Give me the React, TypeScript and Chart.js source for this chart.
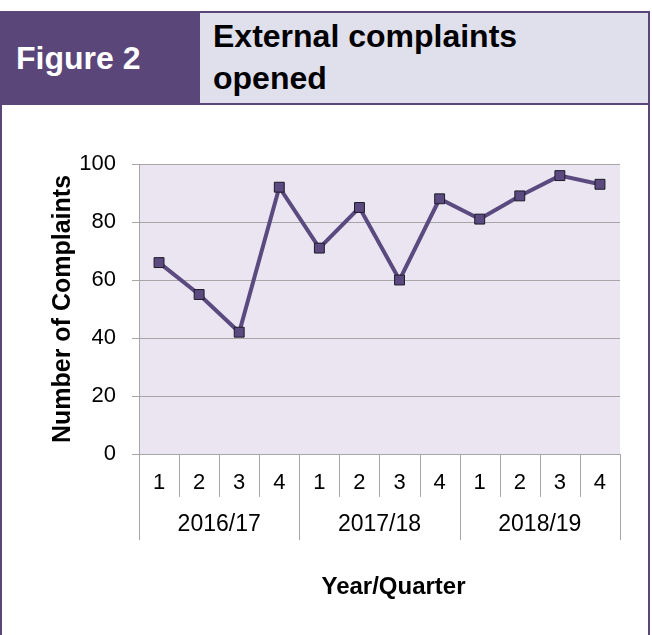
import React, { useEffect, useRef } from "react";
import { Chart, registerables } from "chart.js";

Chart.register(...registerables);

const quarters: string[] = ["1", "2", "3", "4", "1", "2", "3", "4", "1", "2", "3", "4"];
const years: string[] = ["2016/17", "2017/18", "2018/19"];
const complaints: number[] = [66, 55, 42, 92, 71, 85, 60, 88, 81, 89, 96, 93];
const yTicks: number[] = [0, 20, 40, 60, 80, 100];
const xTitle = "Year/Quarter";

const PURPLE = "#5B4679";
const HEADER_BG = "#E0DFEC";
const PLOT_BG = "#EAE5F0";
const GRID = "#A6A6A6";
const FONT = "'Liberation Sans', Arial, sans-serif";

const plotBg = {
  id: "plotBg",
  beforeDraw(chart: any) {
    const { ctx, chartArea } = chart;
    ctx.save();
    ctx.fillStyle = PLOT_BG;
    ctx.fillRect(chartArea.left, chartArea.top, chartArea.right - chartArea.left, chartArea.bottom - chartArea.top);
    ctx.restore();
  },
};

const groupAxis = {
  id: "groupAxis",
  afterDraw(chart: any) {
    const { ctx } = chart;
    const xs = chart.scales.x;
    const top = chart.chartArea.bottom;
    const half = (xs.getPixelForValue(1) - xs.getPixelForValue(0)) / 2;
    ctx.save();
    ctx.strokeStyle = GRID;
    ctx.lineWidth = 1;
    for (let i = 0; i <= quarters.length; i++) {
      const x = i < quarters.length ? xs.getPixelForValue(i) - half : xs.getPixelForValue(quarters.length - 1) + half;
      const len = i % 4 === 0 ? 86 : 43;
      const px = Math.round(x) + 0.5;
      ctx.beginPath();
      ctx.moveTo(px, top);
      ctx.lineTo(px, top + len);
      ctx.stroke();
    }
    ctx.fillStyle = "#000";
    ctx.font = `23px ${FONT}`;
    ctx.textAlign = "center";
    ctx.textBaseline = "middle";
    years.forEach((y, k) => {
      const cx = (xs.getPixelForValue(k * 4) + xs.getPixelForValue(k * 4 + 3)) / 2;
      ctx.fillText(y, cx, top + 71);
    });
    ctx.font = `bold 24px ${FONT}`;
    ctx.fillText(xTitle, (xs.left + xs.right) / 2 + 14, top + 133);
    ctx.restore();
  },
};

export default function App() {
  const ref = useRef<HTMLCanvasElement | null>(null);

  useEffect(() => {
    if (!ref.current) return;
    const chart = new Chart(ref.current, {
      type: "line",
      data: {
        labels: quarters,
        datasets: [
          {
            data: complaints,
            borderColor: "#5A4A7F",
            borderWidth: 4,
            tension: 0,
            pointStyle: "rect",
            pointRadius: 7,
            pointHoverRadius: 7,
            pointBackgroundColor: "#5A4A80",
            pointBorderColor: "#1E1A28",
            pointBorderWidth: 1,
          },
        ],
      },
      options: {
        animation: false,
        responsive: false,
        maintainAspectRatio: false,
        layout: { padding: { top: 164, left: 0, right: 32, bottom: 0 } },
        plugins: { legend: { display: false }, tooltip: { enabled: false } },
        scales: {
          x: {
            type: "category",
            offset: true,
            grid: { display: false, drawTicks: false },
            border: { display: true, color: GRID },
            ticks: { color: "#000", font: { family: FONT, size: 22 }, padding: 16, maxRotation: 0, autoSkip: false },
            title: { display: false },
            afterFit: (s: any) => {
              s.height = 635 - 454;
            },
          },
          y: {
            min: 0,
            max: 100,
            afterBuildTicks: (s: any) => {
              s.ticks = yTicks.map((v) => ({ value: v }));
            },
            grid: { color: GRID, lineWidth: 1, tickLength: 7, drawTicks: true },
            border: { display: true, color: GRID },
            ticks: { color: "#000", font: { family: FONT, size: 22 }, padding: 16 },
            title: {
              display: true,
              text: "Number of Complaints",
              color: "#000",
              font: { family: FONT, size: 25, weight: "bold" },
              padding: { top: 48, bottom: 0 },
            },
            afterFit: (s: any) => {
              s.width = 139;
            },
          },
        },
      },
      plugins: [plotBg, groupAxis],
    } as any);
    return () => chart.destroy();
  }, []);

  return (
    <div style={{ position: "absolute", left: 0, top: 0, width: 652, height: 635, overflow: "hidden", background: "#fff", fontFamily: FONT }}>
      <canvas ref={ref} width={652} height={635} style={{ position: "absolute", left: 0, top: 0, width: 652, height: 635 }} />
      <div style={{ position: "absolute", left: 0, top: 11, width: 650, height: 640, border: `2px solid ${PURPLE}`, boxSizing: "border-box", pointerEvents: "none" }} />
      <div style={{ position: "absolute", left: 0, top: 11, width: 200, height: 94, background: PURPLE, color: "#fff", fontWeight: "bold", fontSize: 32, lineHeight: "94px", paddingLeft: 16, boxSizing: "border-box" }}>
        Figure 2
      </div>
      <div style={{ position: "absolute", left: 200, top: 11, width: 450, height: 94, background: HEADER_BG, border: `2px solid ${PURPLE}`, borderLeft: "none", boxSizing: "border-box", color: "#000", fontWeight: "bold", fontSize: 32, lineHeight: "42px", paddingLeft: 13, paddingTop: 2 }}>
        External complaints
        <br />
        opened
      </div>
    </div>
  );
}
